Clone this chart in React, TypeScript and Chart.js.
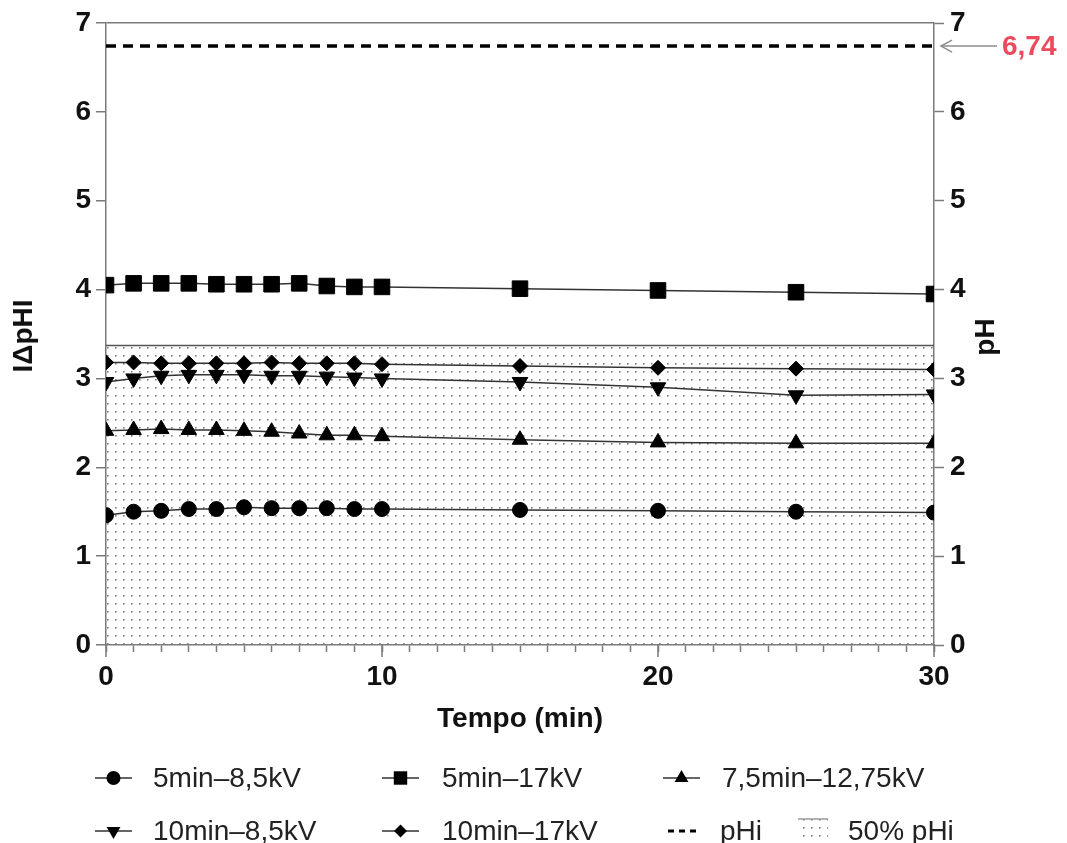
import React, { useEffect, useRef } from 'react';
import { Chart, registerables } from 'chart.js';

Chart.register(...registerables);

// ---- data ----
const times = [0, 1, 2, 3, 4, 5, 6, 7, 8, 9, 10, 15, 20, 25, 30];
const s5min85kV = [1.46, 1.5, 1.51, 1.53, 1.53, 1.55, 1.54, 1.54, 1.54, 1.53, 1.53, 1.52, 1.51, 1.5, 1.49];
const s5min17kV = [4.05, 4.07, 4.07, 4.07, 4.06, 4.06, 4.06, 4.07, 4.04, 4.03, 4.03, 4.01, 3.99, 3.97, 3.95];
const s75min1275kV = [2.41, 2.42, 2.43, 2.42, 2.42, 2.41, 2.4, 2.38, 2.36, 2.36, 2.35, 2.31, 2.28, 2.27, 2.27];
const s10min85kV = [2.96, 3.0, 3.03, 3.04, 3.04, 3.04, 3.03, 3.03, 3.02, 3.01, 3.0, 2.96, 2.9, 2.81, 2.82];
const s10min17kV = [3.18, 3.18, 3.17, 3.17, 3.17, 3.17, 3.18, 3.17, 3.17, 3.17, 3.16, 3.14, 3.12, 3.11, 3.1];
const pHiValue = 6.74;
const halfPHi = 3.37;
const xRange = [0, 30];
const yRange = [0, 7];
const xMajorTicks = [0, 10, 20, 30];
const seriesLabels = ['5min–8,5kV', '5min–17kV', '7,5min–12,75kV', '10min–8,5kV', '10min–17kV', 'pHi', '50% pHi'];
const xTitle = 'Tempo (min)';
const yTitle = 'IΔpHI';
const y2Title = 'pH';
const pHiLabel = '6,74';

const FONT = '"Liberation Sans", Arial, sans-serif';
const AXIS = '#7a7a7a';
const LINE = '#333333';

function toXY(vals: number[]) {
  return times.map((t, i) => ({ x: t, y: vals[i] }));
}

function makeDotPattern(): CanvasPattern | string {
  const c = document.createElement('canvas');
  c.width = 8;
  c.height = 8;
  const g = c.getContext('2d');
  if (!g) return 'rgba(0,0,0,0.05)';
  g.fillStyle = '#808080';
  g.fillRect(3, 3, 1.6, 1.6);
  const p = g.createPattern(c, 'repeat');
  return p || 'rgba(0,0,0,0.05)';
}

function drawMarker(ctx: CanvasRenderingContext2D, style: string, x: number, y: number, r: number) {
  ctx.beginPath();
  if (style === 'circle') {
    ctx.arc(x, y, r, 0, Math.PI * 2);
  } else if (style === 'rect') {
    const s = r * Math.SQRT1_2;
    ctx.rect(x - s, y - s, 2 * s, 2 * s);
  } else if (style === 'triangle' || style === 'triangleDown') {
    const rot = style === 'triangle' ? 0 : Math.PI;
    for (let k = 0; k < 3; k++) {
      const a = rot - Math.PI / 2 + (k * 2 * Math.PI) / 3;
      const px = x + Math.cos(a) * r;
      const py = y + Math.sin(a) * r;
      if (k === 0) ctx.moveTo(px, py);
      else ctx.lineTo(px, py);
    }
    ctx.closePath();
  } else if (style === 'diamond') {
    ctx.moveTo(x, y - r);
    ctx.lineTo(x + r, y);
    ctx.lineTo(x, y + r);
    ctx.lineTo(x - r, y);
    ctx.closePath();
  }
  ctx.fillStyle = '#000';
  ctx.fill();
}

const extrasPlugin = {
  id: 'extras',
  afterDraw(chart: any) {
    const ctx: CanvasRenderingContext2D = chart.ctx;
    const area = chart.chartArea;
    const xs = chart.scales.x;
    const ys = chart.scales.y;
    ctx.save();

    // major x ticks (longer)
    ctx.strokeStyle = AXIS;
    ctx.lineWidth = 1.5;
    xMajorTicks.forEach((v) => {
      const px = xs.getPixelForValue(v);
      ctx.beginPath();
      ctx.moveTo(px, area.bottom);
      ctx.lineTo(px, area.bottom + 12);
      ctx.stroke();
    });

    // arrow + label for pHi
    const yp = ys.getPixelForValue(pHiValue);
    ctx.strokeStyle = '#8c8c8c';
    ctx.lineWidth = 1.5;
    ctx.beginPath();
    ctx.moveTo(997, yp);
    ctx.lineTo(area.right + 7, yp);
    ctx.stroke();
    ctx.beginPath();
    ctx.moveTo(area.right + 18, yp - 6);
    ctx.lineTo(area.right + 7, yp);
    ctx.lineTo(area.right + 18, yp + 6);
    ctx.stroke();
    ctx.fillStyle = '#ee4a5e';
    ctx.font = `bold 28px ${FONT}`;
    ctx.textAlign = 'left';
    ctx.textBaseline = 'middle';
    ctx.fillText(pHiLabel, 1002, yp + 1);

    // axis titles
    ctx.fillStyle = '#111';
    ctx.font = `bold 28px ${FONT}`;
    ctx.textAlign = 'center';
    ctx.textBaseline = 'middle';
    ctx.fillText(xTitle, (area.left + area.right) / 2, 719);

    ctx.save();
    ctx.translate(24, 336);
    ctx.rotate(-Math.PI / 2);
    ctx.fillText(yTitle, 0, 0);
    ctx.restore();

    ctx.save();
    ctx.translate(986, 337);
    ctx.rotate(-Math.PI / 2);
    ctx.fillText(y2Title, 0, 0);
    ctx.restore();

    // legend
    const rows = [778, 831];
    const cols = [
      { lx0: 95, lx1: 132, tx: 153 },
      { lx0: 382, lx1: 419, tx: 442 },
      { lx0: 663, lx1: 700, tx: 722 },
    ];
    const items = [
      { label: seriesLabels[0], style: 'circle', r: 7, col: 0, row: 0 },
      { label: seriesLabels[1], style: 'rect', r: 9.5, col: 1, row: 0 },
      { label: seriesLabels[2], style: 'triangle', r: 8, col: 2, row: 0 },
      { label: seriesLabels[3], style: 'triangleDown', r: 8, col: 0, row: 1 },
      { label: seriesLabels[4], style: 'diamond', r: 6.5, col: 1, row: 1 },
    ];
    ctx.font = `28px ${FONT}`;
    ctx.textAlign = 'left';
    ctx.textBaseline = 'middle';
    items.forEach((it) => {
      const c = cols[it.col];
      const y = rows[it.row];
      ctx.strokeStyle = LINE;
      ctx.lineWidth = 1.5;
      ctx.beginPath();
      ctx.moveTo(c.lx0, y);
      ctx.lineTo(c.lx1, y);
      ctx.stroke();
      drawMarker(ctx, it.style, (c.lx0 + c.lx1) / 2, y, it.r);
      ctx.fillStyle = '#222';
      ctx.fillText(it.label, c.tx, y + 1);
    });
    // pHi legend
    ctx.strokeStyle = '#000';
    ctx.lineWidth = 3;
    ctx.setLineDash([6, 5]);
    ctx.beginPath();
    ctx.moveTo(668, rows[1]);
    ctx.lineTo(698, rows[1]);
    ctx.stroke();
    ctx.setLineDash([]);
    ctx.fillStyle = '#222';
    ctx.fillText(seriesLabels[5], 720, rows[1] + 1);
    // 50% pHi legend
    const pat = makeDotPattern();
    ctx.fillStyle = pat as any;
    ctx.fillRect(798, rows[1] - 12, 30, 24);
    ctx.strokeStyle = '#999';
    ctx.lineWidth = 1.5;
    ctx.beginPath();
    ctx.moveTo(798, rows[1] - 12);
    ctx.lineTo(828, rows[1] - 12);
    ctx.stroke();
    ctx.fillStyle = '#222';
    ctx.fillText(seriesLabels[6], 848, rows[1] + 1);

    ctx.restore();
  },
};

export default function App() {
  const ref = useRef<HTMLCanvasElement | null>(null);

  useEffect(() => {
    document.body.style.margin = '0';
    const canvas = ref.current;
    if (!canvas) return;
    const pattern = makeDotPattern();

    const seriesBase = {
      borderColor: LINE,
      borderWidth: 1.5,
      pointBackgroundColor: '#000',
      pointBorderColor: '#000',
      pointBorderWidth: 1,
      fill: false,
      tension: 0,
    };

    const tickFont = { family: FONT, size: 28, weight: 'bold' as const };

    const chart = new Chart(canvas, {
      type: 'line',
      data: {
        datasets: [
          { ...seriesBase, label: seriesLabels[0], data: toXY(s5min85kV), pointStyle: 'circle', pointRadius: 7.5, order: 1 },
          { ...seriesBase, label: seriesLabels[1], data: toXY(s5min17kV), pointStyle: 'rect', pointRadius: 11, order: 1 },
          { ...seriesBase, label: seriesLabels[2], data: toXY(s75min1275kV), pointStyle: 'triangle', pointRadius: 9, order: 1 },
          { ...seriesBase, label: seriesLabels[3], data: toXY(s10min85kV), pointStyle: 'triangle', pointRotation: 180, pointRadius: 9, order: 1 },
          { ...seriesBase, label: seriesLabels[4], data: toXY(s10min17kV), pointStyle: 'rectRot', pointRadius: 7.5, order: 1 },
          {
            label: seriesLabels[5],
            data: [{ x: xRange[0], y: pHiValue }, { x: xRange[1], y: pHiValue }],
            borderColor: '#000',
            borderWidth: 3.5,
            borderDash: [10, 7],
            pointRadius: 0,
            fill: false,
            order: 5,
          },
          {
            label: seriesLabels[6],
            data: [{ x: xRange[0], y: halfPHi }, { x: xRange[1], y: halfPHi }],
            borderColor: '#555',
            borderWidth: 1.5,
            backgroundColor: pattern as any,
            pointRadius: 0,
            fill: 'origin',
            order: 10,
          },
        ],
      },
      options: {
        responsive: false,
        animation: false,
        layout: { padding: { top: 23, left: 0, right: 0, bottom: 0 } },
        plugins: {
          legend: { display: false },
          tooltip: { enabled: false },
        },
        scales: {
          x: {
            type: 'linear',
            min: xRange[0],
            max: xRange[1],
            afterFit: (s: any) => { s.height = 198; },
            ticks: {
              stepSize: 1,
              autoSkip: false,
              maxRotation: 0,
              padding: 8,
              color: '#111',
              font: tickFont,
              callback: (v: any) => (Number(v) % 10 === 0 ? String(v) : ''),
            },
            grid: { drawOnChartArea: false, drawTicks: true, tickLength: 7, tickColor: AXIS, tickWidth: 1.5 },
            border: { display: true, color: AXIS, width: 1.5 },
          },
          y: {
            type: 'linear',
            position: 'left',
            min: yRange[0],
            max: yRange[1],
            afterFit: (s: any) => { s.width = 106; },
            ticks: {
              stepSize: 1,
              padding: 5,
              color: '#111',
              font: tickFont,
            },
            grid: {
              drawOnChartArea: true,
              color: (c: any) => (c.tick && c.tick.value === yRange[1] ? AXIS : 'rgba(0,0,0,0)'),
              lineWidth: 1.5,
              tickColor: AXIS,
              tickLength: 10,
              tickWidth: 1.5,
            },
            border: { display: true, color: AXIS, width: 1.5 },
          },
          y2: {
            type: 'linear',
            position: 'right',
            min: yRange[0],
            max: yRange[1],
            afterFit: (s: any) => { s.width = 133; },
            ticks: {
              stepSize: 1,
              padding: 6,
              color: '#111',
              font: tickFont,
            },
            grid: { drawOnChartArea: false, tickColor: AXIS, tickLength: 10, tickWidth: 1.5 },
            border: { display: true, color: AXIS, width: 1.5 },
          },
        },
      },
      plugins: [extrasPlugin],
    });

    return () => chart.destroy();
  }, []);

  return (
    <div style={{ width: 1067, height: 843, background: '#fff' }}>
      <canvas ref={ref} width={1067} height={843} style={{ display: 'block' }} />
    </div>
  );
}
